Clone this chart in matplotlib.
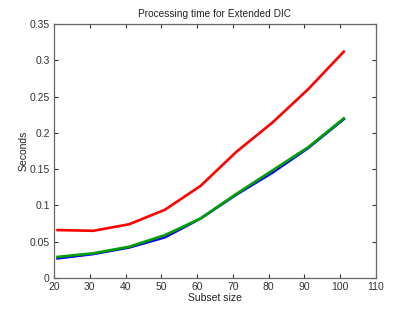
import matplotlib
matplotlib.use("Agg")
import matplotlib.pyplot as plt

subset = [21, 31, 41, 51, 61, 71, 81, 91, 101]
blue = [0.027, 0.033, 0.042, 0.056, 0.082, 0.115, 0.145, 0.179, 0.219]
red = [0.066, 0.065, 0.074, 0.094, 0.127, 0.174, 0.214, 0.260, 0.312]
green = [0.029, 0.034, 0.043, 0.059, 0.082, 0.116, 0.148, 0.180, 0.220]

xticks = [20, 30, 40, 50, 60, 70, 80, 90, 100, 110]
yticks = [0, 0.05, 0.1, 0.15, 0.2, 0.25, 0.3, 0.35]
ylabels = ["0", "0.05", "0.1", "0.15", "0.2", "0.25", "0.3", "0.35"]

plt.rcParams['font.family'] = ['Liberation Sans', 'DejaVu Sans']
fig = plt.figure(figsize=(4.15, 3.13), dpi=100)
ax = fig.add_axes([0.13, 0.112, 0.776, 0.811])
ax.plot(subset, blue, color='#0000ff', lw=1.9)
ax.plot(subset, red, color='#ff0000', lw=1.9)
ax.plot(subset, green, color='#00a000', lw=1.9)
ax.set_xlim(20, 110)
ax.set_ylim(0, 0.35)
ax.set_xticks(xticks)
ax.set_yticks(yticks)
ax.set_yticklabels(ylabels)
ax.tick_params(direction='in', length=3, labelsize=7.5, colors='#333333', top=True, right=True, pad=3)
for s in ax.spines.values():
    s.set_color('#666666')
    s.set_linewidth(0.9)
ax.set_title("Processing time for Extended DIC", fontsize=7.3, pad=5, color='#222222')
ax.set_xlabel("Subset size", fontsize=7.5, labelpad=1, color='#222222')
ax.set_ylabel("Seconds", fontsize=7.5, labelpad=1, color='#222222')
fig.savefig("out.png", dpi=100)
